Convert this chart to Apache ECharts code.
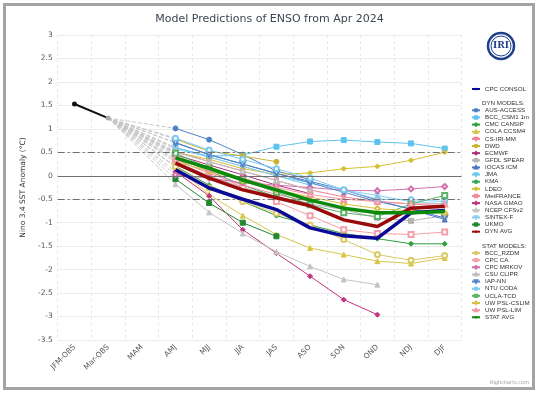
<!DOCTYPE html>
<html><head><meta charset="utf-8">
<script src="https://cdn.jsdelivr.net/npm/echarts@6/dist/echarts.min.js"></script>
<style>html,body{margin:0;padding:0;background:#fff}#c{width:539px;height:394px}</style>
</head><body><div id="c"></div>
<script>
// ---- data ----
const categories = ['JFM-OBS','Mar-OBS','MAM','AMJ','MJJ','JJA','JAS','ASO','SON','OND','NDJ','DJF'];
const obsValues = [1.53, 1.23];
// forecast seasons AMJ..DJF
const cpcConsol   = [0.13, -0.26, -0.50, -0.72, -1.11, -1.28, -1.33, -0.79, -0.74];
const ausAccess   = [1.01, 0.77, 0.45, 0.10, -0.08, null, null, null, null];
const bccCsm      = [0.60, 0.42, 0.44, 0.62, 0.73, 0.76, 0.72, 0.69, 0.58];
const cmcCansip   = [0.20, -0.20, -0.55, -0.85, -1.05, -1.23, -1.34, -1.45, -1.45];
const colaCcsm4   = [0.20, -0.40, -0.85, -1.25, -1.54, -1.68, -1.82, -1.87, -1.75];
const csIriMm     = [0.52, 0.30, 0.10, -0.10, -0.30, -0.45, -0.55, -0.60, -0.65];
const dwd         = [0.78, 0.52, 0.42, 0.30, null, null, null, null, null];
const ecmwf       = [0.45, 0.23, 0.02, -0.20, -0.38, null, null, null, null];
const gfdlSpear   = [0.30, 0.00, -0.25, -0.45, -0.60, -0.72, -0.90, -0.96, -0.85];
const iocasIcm    = [0.71, 0.45, 0.25, 0.05, -0.12, -0.30, -0.52, -0.72, -0.93];
const jma         = [0.60, 0.40, 0.20, 0.00, -0.20, null, null, null, null];
const kma         = [0.40, 0.10, -0.20, -0.45, -0.60, null, null, null, null];
const ldeo        = [0.50, 0.35, 0.15, 0.03, 0.06, 0.15, 0.20, 0.33, 0.50];
const metFrance   = [0.35, 0.05, -0.20, -0.40, -0.55, null, null, null, null];
const nasaGmao    = [0.09, -0.43, -1.15, -1.65, -2.14, -2.64, -2.96, null, null];
const ncepCfsv2   = [-0.18, -0.78, -1.23, -1.62, -1.93, -2.21, -2.32, null, null];
const sintexF     = [0.57, 0.40, 0.20, 0.00, -0.15, -0.30, -0.42, -0.55, -0.60];
const ukmo        = [-0.07, -0.58, -1.00, -1.29, null, null, null, null, null];
const dynAvg      = [0.27, -0.05, -0.30, -0.47, -0.64, -0.94, -1.08, -0.69, -0.65];
const bccRzdm     = [0.19, -0.26, -0.55, -0.80, -1.05, -1.36, -1.68, -1.80, -1.70];
const cpcCa       = [0.45, 0.10, -0.25, -0.55, -0.85, -1.15, -1.23, -1.25, -1.20];
const cpcMrkov    = [0.02, -0.05, -0.15, -0.20, -0.25, -0.31, -0.32, -0.28, -0.23];
const csuClipr    = [0.50, 0.30, 0.10, -0.10, -0.30, null, null, null, null];
const iapNn       = [0.70, 0.45, 0.25, 0.05, -0.15, -0.35, -0.55, -0.70, -0.90];
const ntuCoda     = [0.80, 0.55, 0.35, 0.15, -0.05, -0.30, -0.50, -0.51, -0.55];
const uclaTcd     = [0.48, 0.16, -0.10, -0.35, -0.62, -0.79, -0.87, -0.60, -0.42];
const uwPslCslim  = [0.30, 0.10, -0.10, -0.30, -0.45, -0.60, -0.70, -0.75, -0.80];
const uwPslLim    = [0.35, 0.15, -0.05, -0.25, -0.40, -0.50, -0.55, -0.60, -0.60];
const statAvg     = [0.38, 0.16, -0.09, -0.30, -0.52, -0.69, -0.79, -0.79, -0.76];

// ---- styles ----
const dynModels = [
  ['AUS-ACCESS', ausAccess, '#4f7fc4', 'circle', 0],
  ['BCC_CSM1 1m', bccCsm, '#5ec3ee', 'rect', 0],
  ['CMC CANSIP', cmcCansip, '#2e9e3e', 'diamond', 0],
  ['COLA CCSM4', colaCcsm4, '#d8c64a', 'triangle', 0],
  ['CS-IRI-MM', csIriMm, '#f07f8f', 'triangle', 180],
  ['DWD', dwd, '#c9b52c', 'circle', 0],
  ['ECMWF', ecmwf, '#a8337a', 'diamond', 0],
  ['GFDL SPEAR', gfdlSpear, '#b4b4b4', 'rect', 0],
  ['IOCAS ICM', iocasIcm, '#4a74c0', 'triangle', 0],
  ['JMA', jma, '#6cc8ee', 'triangle', 180],
  ['KMA', kma, '#3aaa5a', 'circle', 0],
  ['LDEO', ldeo, '#d4c033', 'diamond', 0],
  ['MetFRANCE', metFrance, '#f28a98', 'rect', 0],
  ['NASA GMAO', nasaGmao, '#c2337e', 'diamond', 0],
  ['NCEP CFSv2', ncepCfsv2, '#c4c4c4', 'triangle', 0],
  ['SINTEX-F', sintexF, '#88d0f2', 'triangle', 180],
  ['UKMO', ukmo, '#22882e', 'rect', 0]
];
const statModels = [
  ['BCC_RZDM', bccRzdm, '#d9c864', 'emptyCircle', 0],
  ['CPC CA', cpcCa, '#f4a0aa', 'emptyRect', 0],
  ['CPC MRKOV', cpcMrkov, '#d46fae', 'emptyDiamond', 0],
  ['CSU CLIPR', csuClipr, '#bdbdbd', 'emptyTriangle', 0],
  ['IAP-NN', iapNn, '#5584c8', 'emptyTriangle', 180],
  ['NTU CODA', ntuCoda, '#7ccaf0', 'emptyCircle', 0],
  ['UCLA-TCD', uclaTcd, '#5db36a', 'emptyRect', 0],
  ['UW PSL-CSLIM', uwPslCslim, '#d4c240', 'emptyDiamond', 0],
  ['UW PSL-LIM', uwPslLim, '#f497a6', 'emptyTriangle', 0]
];

const pad = v => [null, null, null].concat(v);
const series = [];
const FONT = 'DejaVu Sans';
const LFONT = 'Liberation Sans';

// connectors from last observation to each model's first forecast
dynModels.concat(statModels).forEach(m => {
  series.push({
    type: 'line', name: '_c_' + m[0], silent: true, connectNulls: true,
    data: [null, obsValues[1], null, m[1][0]],
    symbol: 'none', z: 1,
    lineStyle: { color: '#c8c8c8', width: 1, type: [4, 2] }
  });
});

function modelSeries(m, z) {
  return {
    type: 'line', name: m[0], data: pad(m[1]), z: z,
    symbol: m[3], symbolSize: 5, symbolRotate: m[4],
    itemStyle: { color: m[2], borderColor: m[2], borderWidth: 1 },
    lineStyle: { color: m[2], width: 1 },
    emphasis: { disabled: true }
  };
}
dynModels.forEach(m => series.push(modelSeries(m, 3)));
statModels.forEach(m => series.push(modelSeries(m, 3)));

function thick(name, vals, color) {
  return { type: 'line', name: name, data: pad(vals), z: 5, symbol: 'none',
    itemStyle: { color: color }, lineStyle: { color: color, width: 3.5 },
    emphasis: { disabled: true } };
}
series.push(thick('CPC CONSOL', cpcConsol, '#0a0a96'));
series.push(thick('DYN AVG', dynAvg, '#9b0a0a'));
series.push(thick('STAT AVG', statAvg, '#0a8a0a'));

// observations
series.push({
  type: 'line', name: 'OBS', z: 6, data: obsValues.map((v, i) => i === 1 ? { value: v, itemStyle: { color: '#aaaaaa' } } : v),
  symbol: 'circle', symbolSize: 5, itemStyle: { color: '#111' }, lineStyle: { color: '#111', width: 2 },
  markLine: {
    silent: true, symbol: 'none', label: { show: false },
    data: [
      { yAxis: 0, lineStyle: { color: '#707070', width: 1, type: 'solid' } },
      { yAxis: 0.5, lineStyle: { color: '#707070', width: 1, type: [7, 3, 2, 3] } },
      { yAxis: -0.5, lineStyle: { color: '#707070', width: 1, type: [7, 3, 2, 3] } }
    ]
  }
});

const legendText = { fontFamily: LFONT, fontSize: 6.2, color: '#333', lineHeight: 7 };
const dynNames = dynModels.map(m => m[0]).concat(['DYN AVG']);
const statNames = statModels.map(m => m[0]).concat(['STAT AVG']);
const legendCommon = { orient: 'vertical', left: 471, itemWidth: 8, itemHeight: 3, itemGap: 0.14,
  textStyle: legendText, selectedMode: false, padding: 0 };

const option = {
  animation: false,
  title: { text: 'Model Predictions of ENSO from Apr 2024', left: 'center', top: 9,
    textStyle: { fontFamily: FONT, fontSize: 11, fontWeight: 'normal', color: '#3d4654' } },
  grid: { left: 57.7, right: 77.5, top: 35, bottom: 54 },
  xAxis: { type: 'category', data: categories, boundaryGap: true,
    axisLine: { lineStyle: { color: '#ccd6eb' } }, axisTick: { show: false },
    axisLabel: { rotate: 45, fontFamily: FONT, fontSize: 7.5, color: '#555', margin: 6, interval: 0 },
    splitLine: { show: true, interval: 0, lineStyle: { color: '#e8e8e8', type: [3, 3] } } },
  yAxis: { type: 'value', min: -3.5, max: 3, interval: 0.5,
    name: 'Nino 3.4 SST Anomaly (°C)', nameLocation: 'middle', nameGap: 31, nameRotate: 90,
    nameTextStyle: { fontFamily: FONT, fontSize: 7.5, color: '#333' },
    axisLine: { show: false }, axisTick: { show: false },
    axisLabel: { fontFamily: FONT, fontSize: 7.5, color: '#555', margin: 5 },
    splitLine: { lineStyle: { color: '#ebebeb' } } },
  legend: [
    Object.assign({}, legendCommon, { top: 85.5, data: ['CPC CONSOL'] }),
    Object.assign({}, legendCommon, { top: 106.8, data: dynNames }),
    Object.assign({}, legendCommon, { top: 249.5, data: statNames })
  ],
  graphic: [
    { type: 'rect', shape: { x: 4.5, y: 4.5, width: 529, height: 384 }, style: { fill: 'none', stroke: '#a3a3a3', lineWidth: 3 }, silent: true },
    { type: 'text', left: 482, top: 100, style: { text: 'DYN MODELS:', fontFamily: LFONT, fontSize: 6.2, fill: '#333' } },
    { type: 'text', left: 482, top: 243, style: { text: 'STAT MODELS:', fontFamily: LFONT, fontSize: 6.2, fill: '#333' } },
    { type: 'circle', shape: { cx: 501, cy: 46, r: 13 }, style: { fill: '#fff', stroke: '#1f3f8c', lineWidth: 2.5 } },
    { type: 'circle', shape: { cx: 501, cy: 46, r: 10 }, style: { fill: '#fff', stroke: '#1f3f8c', lineWidth: 1 } },
    { type: 'text', x: 501, y: 46, style: { text: 'IRI', fontFamily: 'DejaVu Serif', fontSize: 9, fontWeight: 'bold', fill: '#1f3f8c', align: 'center', verticalAlign: 'middle' } },
    { type: 'text', right: 10, top: 380, style: { text: 'Highcharts.com', fontFamily: FONT, fontSize: 5, fill: '#999' } }
  ],
  series: series
};
const chart = echarts.init(document.getElementById('c'), null, { renderer: 'canvas' });
chart.setOption(option);
</script></body></html>
